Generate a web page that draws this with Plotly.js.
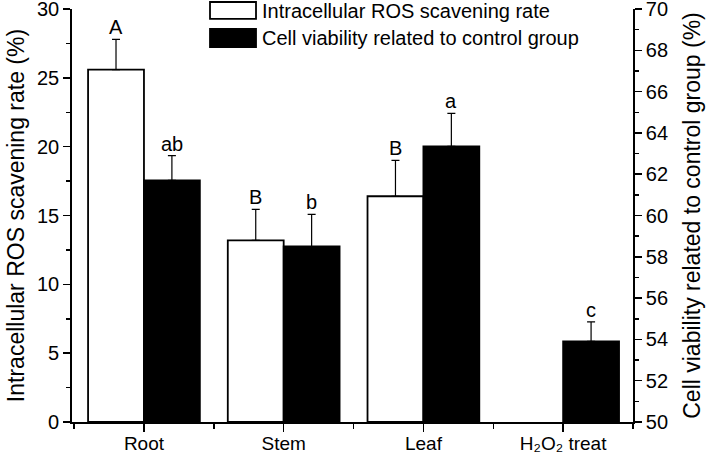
<!DOCTYPE html>
<html>
<head>
<meta charset="utf-8">
<script src="https://cdn.plot.ly/plotly-3.0.1.min.js"></script>
<style>html,body{margin:0;padding:0;background:#fff;}#chart{width:709px;height:454px;}</style>
</head>
<body>
<div id="chart"></div>
<script>
const categories = ["Root", "Stem", "Leaf", "H₂O₂ treat"];
const rosRate = [25.6, 13.2, 16.4, null];
const rosErr = [2.2, 2.25, 2.6, 0];
const rosLetters = ["A", "B", "B", ""];
const viability = [61.7, 58.5, 63.35, 53.9];
const viabilityErr = [1.2, 1.55, 1.6, 0.95];
const viabilityLetters = ["ab", "b", "a", "c"];
const seriesNames = ["Intracellular ROS scavening rate", "Cell viability related to control group"];

const idx = categories.map((_, i) => i);
const FONT = "Liberation Sans, Arial, sans-serif";
const FS = 20;

const traceRos = {
  type: "bar", x: idx, y: rosRate, name: seriesNames[0],
  width: 0.4, offset: -0.4,
  marker: {color: "#ffffff", line: {color: "#000", width: 1.8}},
  error_y: {type: "data", symmetric: false, array: rosErr, arrayminus: rosErr.map(() => 0), color: "#000", thickness: 1.2, width: 4},
  xaxis: "x", yaxis: "y", showlegend: false
};
const traceVia = {
  type: "bar", x: idx, y: viability.map(v => v - 50), base: 50, name: seriesNames[1],
  width: 0.4, offset: 0,
  marker: {color: "#000000", line: {color: "#000", width: 1.8}},
  error_y: {type: "data", symmetric: false, array: viabilityErr, arrayminus: viabilityErr.map(() => 0), color: "#000", thickness: 1.2, width: 4},
  xaxis: "x", yaxis: "y2", showlegend: false
};

const annotations = [];
idx.forEach(i => {
  if (rosLetters[i]) annotations.push({x: i - 0.2, y: rosRate[i] + rosErr[i], xref: "x", yref: "y", text: rosLetters[i], showarrow: false, yanchor: "bottom", borderpad: 0, font: {family: FONT, size: FS, color: "#000"}});
  if (viabilityLetters[i]) annotations.push({x: i + 0.2, y: viability[i] + viabilityErr[i], xref: "x", yref: "y2", text: viabilityLetters[i], showarrow: false, yanchor: "bottom", borderpad: 0, font: {family: FONT, size: FS, color: "#000"}});
});
// legend texts
annotations.push({x: 0.335, y: 0.996, xref: "paper", yref: "paper", text: seriesNames[0], showarrow: false, xanchor: "left", yanchor: "middle", font: {family: FONT, size: FS, color: "#000"}});
annotations.push({x: 0.335, y: 0.930, xref: "paper", yref: "paper", text: seriesNames[1], showarrow: false, xanchor: "left", yanchor: "middle", font: {family: FONT, size: FS, color: "#000"}});

const shapes = [
  {type: "rect", xref: "paper", yref: "paper", x0: 0.246, x1: 0.328, y0: 0.976, y1: 1.017, fillcolor: "#fff", line: {color: "#000", width: 1.8}},
  {type: "rect", xref: "paper", yref: "paper", x0: 0.246, x1: 0.328, y0: 0.908, y1: 0.952, fillcolor: "#000", line: {color: "#000", width: 1.8}}
];

const layout = {
  width: 709, height: 454,
  margin: {l: 72, r: 76, t: 9, b: 32},
  paper_bgcolor: "#fff", plot_bgcolor: "#fff",
  font: {family: FONT, size: FS, color: "#000"},
  barmode: "overlay",
  xaxis: {
    range: [-0.515, 3.5], tickvals: idx, ticktext: categories,
    showline: true, linecolor: "#000", linewidth: 1.8, showgrid: false, zeroline: false,
    ticks: "outside", ticklen: 8, tickwidth: 1.5, tickcolor: "#000",
    ticklabelstandoff: -5, ticklabeloverflow: "allow",
    minor: {dtick: 0.5, tick0: 0, ticks: "outside", ticklen: 5, tickwidth: 1.5, tickcolor: "#000", showgrid: false},
    tickfont: {family: FONT, size: 19, color: "#000"}
  },
  yaxis: {
    range: [0, 30], dtick: 5, showline: true, linecolor: "#000", linewidth: 1.8, showgrid: false, zeroline: false,
    ticks: "outside", ticklen: 7, tickwidth: 1.5, tickcolor: "#000", ticklabeloverflow: "allow",
    minor: {dtick: 2.5, ticks: "outside", ticklen: 4, tickwidth: 1.5, tickcolor: "#000", showgrid: false},
    tickfont: {family: FONT, size: FS, color: "#000"},
    title: {text: "Intracellular ROS scavening rate (%)", standoff: 6, font: {family: FONT, size: 23, color: "#000"}}
  },
  yaxis2: {
    range: [50, 70], dtick: 2, overlaying: "y", side: "right", anchor: "x",
    showline: true, linecolor: "#000", linewidth: 1.8, showgrid: false, zeroline: false,
    ticks: "outside", ticklen: 7, tickwidth: 1.5, tickcolor: "#000", ticklabeloverflow: "allow",
    minor: {dtick: 1, ticks: "outside", ticklen: 4, tickwidth: 1.5, tickcolor: "#000", showgrid: false},
    tickfont: {family: FONT, size: FS, color: "#000"},
    title: {text: "Cell viability related to control group (%)", standoff: 17, font: {family: FONT, size: 23, color: "#000"}}
  },
  annotations: annotations,
  shapes: shapes,
  showlegend: false
};

Plotly.newPlot("chart", [traceRos, traceVia], layout, {displayModeBar: false, staticPlot: true});
</script>
</body>
</html>
